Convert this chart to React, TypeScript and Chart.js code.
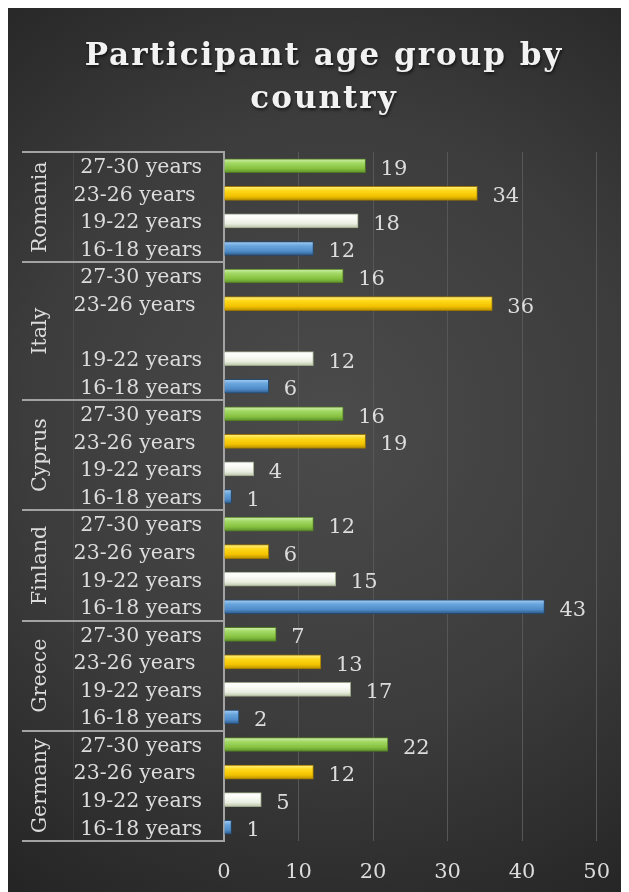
import React, { useEffect, useRef } from 'react';
import { Chart, registerables } from 'chart.js';

Chart.register(...registerables);

const titleLines = ['Participant age group by', 'country'];
const countries = ['Romania', 'Italy', 'Cyprus', 'Finland', 'Greece', 'Germany'];
const ageGroups = ['27-30 years', '23-26 years ', '19-22 years', '16-18 years'];
const romania = [19, 34, 18, 12];
const italy = [16, 36, 12, 6];
const cyprus = [16, 19, 4, 1];
const finland = [12, 6, 15, 43];
const greece = [7, 13, 17, 2];
const germany = [22, 12, 5, 1];
const countryValues = [romania, italy, cyprus, finland, greece, germany];
// Italy shows an empty row between "23-26 years" and "19-22 years"
const blankRowCountry = 'Italy';
const blankRowAfter = 1;
const xMin = 0;
const xMax = 50;
const xStep = 10;

// gradient stops per age group: [top highlight, upper, lower, bottom shade, border]
const ageColors = [
  ['#d2f0ad', '#a2d965', '#86c13f', '#5d8f2b', '#4f7a22'],
  ['#fff08a', '#ffd91a', '#f2c200', '#b88f00', '#9a7600'],
  ['#ffffff', '#fbfcf7', '#e9eee0', '#b9c4a6', '#9aa687'],
  ['#a9d0f5', '#6aa6dd', '#4f8cc9', '#2c5987', '#244a70'],
];

const FONT = "'DejaVu Serif', serif";
const TEXT = '#dcdcdc';
const LINE = '#a3a3a3';

type Row = { label: string; value: number | null; age: number };
const rows: Row[] = [];
const groups: { country: string; start: number; end: number }[] = [];
countries.forEach((c, ci) => {
  const start = rows.length;
  countryValues[ci].forEach((v, ai) => {
    rows.push({ label: ageGroups[ai], value: v, age: ai });
    if (c === blankRowCountry && ai === blankRowAfter) rows.push({ label: '', value: null, age: -1 });
  });
  groups.push({ country: c, start, end: rows.length - 1 });
});

export default function App() {
  const ref = useRef<HTMLCanvasElement>(null);
  useEffect(() => {
    document.documentElement.style.overflow = 'hidden';
    const canvas = ref.current!;
    const bgPlugin = {
      id: 'bg',
      beforeDraw(chart: any) {
        const { ctx, width, height } = chart;
        ctx.save();
        const g = ctx.createRadialGradient(width * 0.52, height * 0.47, 0, width * 0.52, height * 0.47, 560);
        g.addColorStop(0, '#4b4b4b');
        g.addColorStop(0.55, '#3c3c3c');
        g.addColorStop(1, '#252525');
        ctx.fillStyle = g;
        ctx.fillRect(0, 0, width, height);
        ctx.restore();
      },
    };
    const decoPlugin = {
      id: 'deco',
      afterDatasetsDraw(chart: any) {
        const { ctx } = chart;
        const meta = chart.getDatasetMeta(0);
        ctx.save();
        ctx.font = `21px ${FONT}`;
        ctx.fillStyle = TEXT;
        ctx.textAlign = 'left';
        ctx.textBaseline = 'alphabetic';
        meta.data.forEach((bar: any, i: number) => {
          const v = rows[i].value;
          if (v === null) return;
          ctx.fillText(String(v), bar.x + 15, bar.y + 9);
        });
        ctx.restore();
      },
      afterDraw(chart: any) {
        const { ctx, chartArea } = chart;
        const y = chart.scales.y;
        const step = (chartArea.bottom - chartArea.top) / rows.length;
        ctx.save();
        // faint inner column line
        ctx.strokeStyle = 'rgba(255,255,255,0.07)';
        ctx.lineWidth = 1;
        ctx.beginPath();
        ctx.moveTo(65.5, chartArea.top);
        ctx.lineTo(65.5, chartArea.bottom);
        ctx.stroke();
        // group separators
        ctx.strokeStyle = LINE;
        ctx.lineWidth = 2;
        const bounds = [y.getPixelForValue(0) - step / 2, ...groups.map((g) => y.getPixelForValue(g.end) + step / 2)];
        bounds.forEach((b) => {
          ctx.beginPath();
          ctx.moveTo(14, Math.round(b));
          ctx.lineTo(chartArea.left, Math.round(b));
          ctx.stroke();
        });
        // country labels
        ctx.font = `20.5px ${FONT}`;
        ctx.fillStyle = TEXT;
        ctx.textAlign = 'center';
        ctx.textBaseline = 'alphabetic';
        groups.forEach((g) => {
          const cy = (y.getPixelForValue(g.start) + y.getPixelForValue(g.end)) / 2;
          ctx.save();
          ctx.translate(38, cy);
          ctx.rotate(-Math.PI / 2);
          ctx.fillText(g.country, 0, 0);
          ctx.restore();
        });
        // title
        ctx.font = `bold 31px ${FONT}`;
        (ctx as any).letterSpacing = '2px';
        ctx.fillStyle = '#f2f2f2';
        ctx.shadowColor = 'rgba(0,0,0,0.6)';
        ctx.shadowBlur = 3;
        ctx.shadowOffsetX = 1;
        ctx.shadowOffsetY = 2;
        ctx.textAlign = 'center';
        ctx.fillText(titleLines[0], 316, 57);
        ctx.fillText(titleLines[1], 316, 100);
        ctx.restore();
      },
    };
    const barFill = (c: any) => {
      const r = rows[c.dataIndex];
      if (!r || r.age < 0) return 'rgba(0,0,0,0)';
      const cols = ageColors[r.age];
      const chart = c.chart;
      if (!chart.chartArea || !chart.scales.y) return cols[2];
      const cy = chart.scales.y.getPixelForValue(c.dataIndex);
      const g = chart.ctx.createLinearGradient(0, cy - 7, 0, cy + 7);
      g.addColorStop(0, cols[0]);
      g.addColorStop(0.3, cols[1]);
      g.addColorStop(0.7, cols[2]);
      g.addColorStop(1, cols[3]);
      return g;
    };
    const chart = new Chart(canvas, {
      type: 'bar',
      data: {
        labels: rows.map((r) => r.label),
        datasets: [
          {
            data: rows.map((r) => r.value),
            backgroundColor: barFill,
            borderColor: rows.map((r) => (r.age < 0 ? 'rgba(0,0,0,0)' : ageColors[r.age][4])),
            borderWidth: 1,
            borderSkipped: 'start',
            barThickness: 14,
          },
        ],
      },
      options: {
        indexAxis: 'y',
        responsive: false,
        animation: false,
        devicePixelRatio: 1,
        layout: { padding: { top: 144, right: 32, left: 0, bottom: 0 } },
        plugins: { legend: { display: false }, tooltip: { enabled: false }, title: { display: false } },
        scales: {
          x: {
            type: 'linear',
            min: xMin,
            max: xMax,
            ticks: { stepSize: xStep, color: TEXT, font: { size: 21, family: FONT }, padding: 19 },
            grid: { color: '#575757', lineWidth: 1, drawTicks: false },
            border: { display: false },
            afterFit(s: any) {
              s.height = 51;
            },
          },
          y: {
            type: 'category',
            ticks: { color: TEXT, font: { size: 20.5, family: FONT }, padding: 22, autoSkip: false, labelOffset: 2 },
            grid: { display: false, drawTicks: false },
            border: { display: true, color: LINE, width: 2 },
            afterFit(s: any) {
              s.width = 216;
            },
          },
        },
      },
      plugins: [bgPlugin, decoPlugin],
    } as any);
    return () => chart.destroy();
  }, []);
  return (
    <div style={{ width: 621, height: 884 }}>
      <canvas ref={ref} width={621} height={884} style={{ display: 'block' }} />
    </div>
  );
}
